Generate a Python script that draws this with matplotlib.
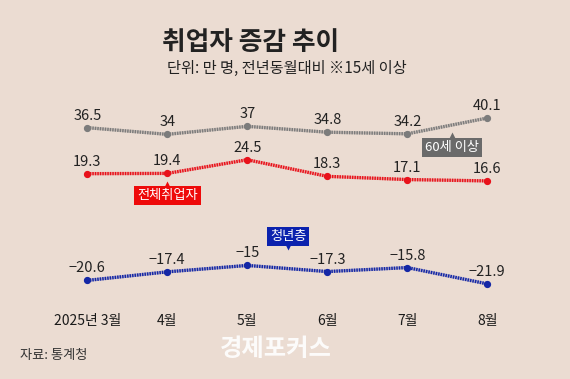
import numpy as np
import matplotlib.pyplot as plt

plt.rcParams['font.family'] = ['Noto Sans CJK KR', 'DejaVu Sans']

months = ['2025년 3월', '4월', '5월', '6월', '7월', '8월']
over60 = [36.5, 34, 37, 34.8, 34.2, 40.1]
total = [19.3, 19.4, 24.5, 18.3, 17.1, 16.6]
youth = [-20.6, -17.4, -15, -17.3, -15.8, -21.9]

bg = '#ebdcd2'
c_gray = '#7c7c7c'
c_red = '#e8121b'
c_blue = '#1427a6'

W, H = 570, 379
x0, dx = 87.3, 80.0      # pixel position of first month, spacing
y0, dy = 225.3, 2.675    # pixel row of value 0, pixels per unit

fig = plt.figure(figsize=(W / 100, H / 100), dpi=100, facecolor=bg)
ax = fig.add_axes([0, 0, 1, 1])
ax.set_facecolor(bg)
ax.set_xlim(-x0 / dx, (W - x0) / dx)
ax.set_ylim((y0 - H) / dy, y0 / dy)
ax.axis('off')

x = np.arange(len(months))


def fmt(v):
    return f"{v:g}".replace('-', '−')


for vals, col in [(over60, c_gray), (total, c_red), (youth, c_blue)]:
    ax.plot(x, vals, color=col, lw=2.2, alpha=0.25, solid_capstyle='butt', zorder=2)
    ax.plot(x, vals, color=col, lw=2.4, linestyle=(0, (0.45, 0.3)), zorder=3)
    ax.plot(x, vals, 'o', color=col, ms=4.2, zorder=4)
    for xi, v in zip(x, vals):
        ax.annotate(fmt(v), (xi, v), xytext=(0, 8.6), textcoords='offset points',
                    ha='center', va='center', fontsize=10.5, color='#222222', zorder=5)

# month labels
for xi, m in zip(x, months):
    ax.text(xi, (y0 - 321) / dy, m, ha='center', va='center', fontsize=10, color='#1a1a1a')

# series tags
def tag(xc, yc, text, col, tri_y, marker):
    ax.text(xc, yc, text, ha='center', va='center', fontsize=9.5, color='white', zorder=6,
            bbox=dict(boxstyle='square,pad=0.22', fc=col, ec='none'))
    ax.plot([xc], [tri_y], marker=marker, color=col, ms=5, mec='none', zorder=6)

tag(4.56, 29.2, '60세 이상', '#6a6a6a', 33.6, '^')
tag(1.0, 11.0, '전체취업자', '#ee0a0a', 15.5, '^')
tag(2.51, -4.1, '청년층', '#0b22ae', -8.2, 'v')

fig.text(162 / W, 1 - 42 / H, '취업자 증감 추이', fontsize=18.5, fontweight='bold',
         color='#222222', ha='left', va='center')
fig.text(167 / W, 1 - 68 / H, '단위: 만 명, 전년동월대비 ※15세 이상', fontsize=11,
         color='#222222', ha='left', va='center')
fig.text(20 / W, 1 - 356 / H, '자료: 통계청', fontsize=9.5, color='#333333',
         ha='left', va='center')
fig.text(276 / W, 1 - 349 / H, '경제포커스', fontsize=17.5, fontweight='bold',
         color='white', alpha=0.9, ha='center', va='center')

fig.savefig('out.png', dpi=100, facecolor=bg)
